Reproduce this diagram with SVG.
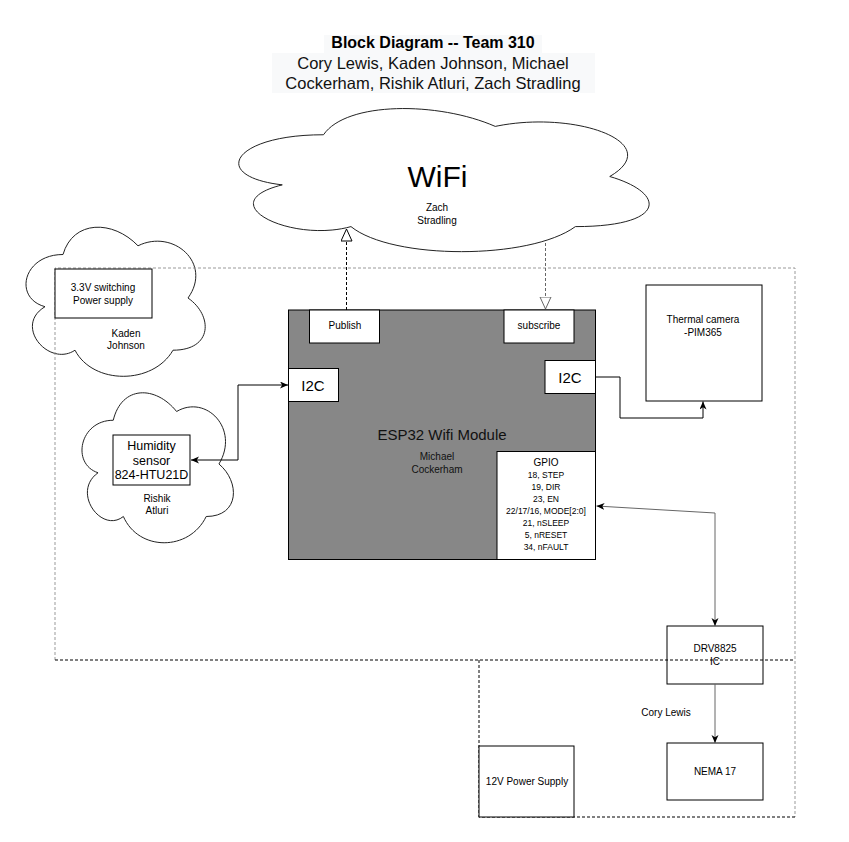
<svg xmlns="http://www.w3.org/2000/svg" width="849" height="842" viewBox="0 0 849 842">
<defs>
<style>
text{font-family:"Liberation Sans",Arial,sans-serif;fill:#000;text-anchor:middle}
.box{fill:#fff;stroke:#000;stroke-width:1}
.cloud{fill:#fff;stroke:#222;stroke-width:1}
.s10{font-size:10px}
.s11{font-size:11px}
.gp{font-size:8.5px}
.i2c{font-size:15px}
.conn{fill:none;stroke:#000;stroke-width:1}
.connG{fill:none;stroke:#666;stroke-width:1}
.dashK{fill:none;stroke:#000;stroke-width:1;stroke-dasharray:3 2}
.dashG{fill:none;stroke:#999;stroke-width:1;stroke-dasharray:3 2}
</style>
<marker id="arr" markerUnits="userSpaceOnUse" markerWidth="9" markerHeight="8" refX="8" refY="3.5" orient="auto-start-reverse" viewBox="0 0 9 8">
<path d="M0,0 L8,3.5 L0,7 L2.2,3.5 Z" fill="#000"/>
</marker>
<marker id="tri" markerUnits="userSpaceOnUse" markerWidth="14" markerHeight="13" refX="12.5" refY="6" orient="auto" viewBox="0 0 14 13">
<path d="M0.5,0.5 L12.5,6 L0.5,11.5 Z" fill="#fff" stroke="#000" stroke-width="1"/>
</marker>
<marker id="triG" markerUnits="userSpaceOnUse" markerWidth="14" markerHeight="13" refX="12.5" refY="6" orient="auto" viewBox="0 0 14 13">
<path d="M0.5,0.5 L12.5,6 L0.5,11.5 Z" fill="#fff" stroke="#666" stroke-width="1"/>
</marker>
</defs>
<rect width="849" height="842" fill="#fff"/>

<g id="title">
<rect x="324" y="35" width="218" height="18" fill="#f8f9fa"/>
<rect x="272" y="53" width="323" height="40" fill="#f8f9fa"/>
<text x="433" y="48" style="font-size:16px;font-weight:bold">Block Diagram -- Team 310</text>
<text x="433" y="69" style="font-size:16.5px;fill:#111">Cory Lewis, Kaden Johnson, Michael</text>
<text x="433" y="89" style="font-size:16.5px;fill:#111">Cockerham, Rishik Atluri, Zach Stradling</text>
</g>

<g id="wifi">
<path class="cloud" d="M323.5,134.75 C231.9,134.75 209,176.5 282.28,184.85 C209,203.22 291.44,243.3 350.98,226.6 C392.2,260 529.6,260 575.4,226.6 C667,226.6 667,193.2 609.75,176.5 C667,143.1 575.4,109.7 495.25,126.4 C438,101.35 346.4,101.35 323.5,134.75 Z"/>
<text x="437.5" y="187" style="font-size:30px">WiFi</text>
<text x="437" y="211" class="s10">Zach</text>
<text x="437" y="224" class="s10">Stradling</text>
</g>

<g id="power33-cloud">
<path class="cloud" d="M63,254.5 C23,254.5 13,298 45,306.7 C13,325.84 49,367.6 75,350.2 C93,385 153,385 173,350.2 C213,350.2 213,315.4 188,298 C213,263.2 173,228.4 138,245.8 C113,219.7 73,219.7 63,254.5 Z"/>
<text x="126" y="337" class="s10">Kaden</text>
<text x="126" y="349" class="s10">Johnson</text>
</g>

<g id="humidity-cloud">
<path class="cloud" d="M113.25,420.25 C79.45,420.25 71,464 98.04,472.75 C71,492 101.42,534 123.39,516.5 C138.6,551.5 189.3,551.5 206.2,516.5 C240,516.5 240,481.5 218.95,464 C240,429 206.2,394 176.6,411.5 C155.5,385.25 121.7,385.25 113.25,420.25 Z"/>
<text x="157" y="502" class="s10">Rishik</text>
<text x="157" y="514" class="s10">Atluri</text>
</g>

<g id="drv8825">
<rect class="box" x="667" y="626" width="96" height="58"/>
<text x="715" y="652" class="s10">DRV8825</text>
<text x="715" y="665" class="s10">IC</text>
</g>

<g id="boundaries">
<path class="dashG" d="M55,660 V268 H795 V817"/>
<path class="dashK" d="M55,660 H795 M479,660 V817 H795"/>
</g>

<g id="power33">
<rect class="box" x="55" y="269" width="97" height="49"/>
<text x="103" y="291" class="s10">3.3V switching</text>
<text x="103" y="304" class="s10">Power supply</text>
</g>

<g id="humidity">
<rect class="box" x="113" y="435" width="77" height="50"/>
<text x="151.5" y="450" style="font-size:12.5px">Humidity</text>
<text x="151.5" y="464.5" style="font-size:12.5px">sensor</text>
<text x="151.5" y="479" style="font-size:12.5px">824-HTU21D</text>
</g>

<g id="esp32">
<rect x="288.5" y="310" width="307" height="249.5" fill="#878787" stroke="#000" stroke-width="1"/>
<text x="442" y="440" style="font-size:15px;fill:#111">ESP32 Wifi Module</text>
<text x="437" y="460" class="s10" style="fill:#111">Michael</text>
<text x="437" y="473" class="s10" style="fill:#111">Cockerham</text>
</g>

<g id="publish">
<rect class="box" x="309.5" y="310" width="70" height="33"/>
<text x="345" y="329" class="s10">Publish</text>
</g>

<g id="subscribe">
<rect class="box" x="504" y="310" width="70" height="33"/>
<text x="539" y="329" class="s10">subscribe</text>
</g>

<g id="i2c-left">
<rect class="box" x="288.5" y="368.5" width="50" height="33"/>
<text x="313" y="390.5" class="i2c">I2C</text>
</g>

<g id="i2c-right">
<rect class="box" x="545" y="360.5" width="50.5" height="33"/>
<text x="570" y="382.5" class="i2c">I2C</text>
</g>

<g id="gpio">
<rect class="box" x="497" y="451.5" width="98.5" height="108"/>
<text x="546" y="466" class="s10">GPIO</text>
<text x="546" y="477.5" class="gp">18, STEP</text>
<text x="546" y="489.5" class="gp">19, DIR</text>
<text x="546" y="501.5" class="gp">23, EN</text>
<text x="546" y="513.5" class="gp">22/17/16, MODE[2:0]</text>
<text x="546" y="525.5" class="gp">21, nSLEEP</text>
<text x="546" y="537.5" class="gp">5, nRESET</text>
<text x="546" y="549.5" class="gp">34, nFAULT</text>
</g>

<g id="thermal">
<rect class="box" x="646" y="285" width="116" height="116"/>
<text x="703" y="323" class="s10">Thermal camera</text>
<text x="703" y="336" class="s10">-PIM365</text>
</g>

<g id="nema17">
<rect class="box" x="667" y="743" width="96" height="57"/>
<text x="715" y="775" class="s10">NEMA 17</text>
</g>

<g id="psu12">
<rect class="box" x="479" y="746" width="95" height="71"/>
<text x="527" y="785" class="s10">12V Power Supply</text>
</g>

<g id="cory-label">
<text x="666" y="716" class="s10">Cory Lewis</text>
</g>

<g id="connectors">
<path class="conn" d="M346.5,310 V229" stroke-dasharray="3 2" marker-end="url(#tri)"/>
<path class="connG" d="M545.5,243 V309" stroke-dasharray="3 2" marker-end="url(#triG)"/>
<path class="conn" d="M191,460 H238 V385 H288" marker-start="url(#arr)" marker-end="url(#arr)"/>
<path class="conn" d="M595.5,377 H620 V418 H703 V401.5" marker-end="url(#arr)"/>
<path class="connG" d="M596.5,506 L715,513 V626" marker-start="url(#arr)" marker-end="url(#arr)"/>
<path class="connG" d="M715,684 V743" marker-end="url(#arr)"/>
</g>
</svg>
